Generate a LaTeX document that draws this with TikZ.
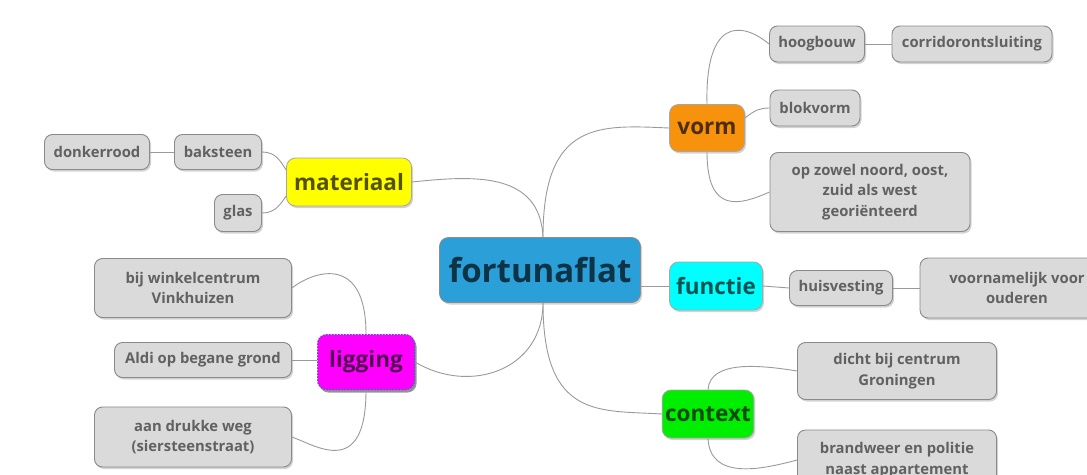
\documentclass[tikz,border=0pt]{standalone}
\usepackage{fontspec}
\setmainfont{Open Sans}
\usetikzlibrary{shadows}
\definecolor{leaffill}{HTML}{DADADA}
\definecolor{leafedge}{HTML}{8A8A8A}
\definecolor{linkgray}{HTML}{9A9A9A}
\definecolor{rootblue}{HTML}{2A9FD8}
\definecolor{vormorange}{HTML}{F7920C}
\definecolor{matyellow}{HTML}{FFFF00}
\definecolor{funccyan}{HTML}{00FFFF}
\definecolor{ligmagenta}{HTML}{FF00FF}
\definecolor{ligedge}{HTML}{4050E0}
\definecolor{ctxgreen}{HTML}{00EE00}
\tikzset{
  leaf/.style={draw=leafedge, line width=0.9pt, fill=leaffill, rounded corners=8pt,
    font=\bfseries\fontsize{14.8}{20.5}\selectfont, text=black!62, align=center, inner sep=3pt,
    drop shadow={shadow xshift=1.5pt, shadow yshift=-2pt, opacity=0.35}},
  topic/.style={draw=black!35, line width=0.8pt, rounded corners=9pt,
    font=\bfseries\fontsize{22.5}{26}\selectfont, text=black, text opacity=0.68, inner sep=3pt,
    drop shadow={shadow xshift=1.5pt, shadow yshift=-2pt, opacity=0.35}},
  link/.style={draw=linkgray, line width=0.9pt}
}
\begin{document}
\begin{tikzpicture}[x=1pt,y=-1pt]
\useasboundingbox (0,0) rectangle (1087,474);
\clip (0,0) rectangle (1087,474);
\fill[white] (0,0) rectangle (1087,474);

% centre
\node[topic, fill=rootblue, draw=black!45, font=\bfseries\fontsize{33}{36}\selectfont,
  minimum width=201pt, minimum height=65pt] (root) at (540,270) {fortunaflat};

% main topics
\node[topic, fill=vormorange, minimum width=75pt, minimum height=47pt] (vorm) at (707,128) {vorm};
\node[topic, fill=matyellow, minimum width=125pt, minimum height=48pt] (mat) at (349,182) {materiaal};
\node[topic, fill=funccyan, minimum width=93pt, minimum height=48pt] (func) at (716,286) {functie};
\node[topic, fill=ligmagenta, draw=ligedge, dash pattern=on 1.5pt off 1.5pt, line width=1pt,
  minimum width=97pt, minimum height=55pt,
  drop shadow={shadow xshift=2pt, shadow yshift=-3pt, opacity=0.8}] (lig) at (366,362) {ligging};
\node[topic, fill=ctxgreen, minimum width=77pt, minimum height=48pt] (ctx) at (708,414) {context};

% vorm
\node[leaf, minimum width=95pt, minimum height=36pt] (hoog) at (817,44) {hoogbouw};
\node[leaf, minimum width=160pt, minimum height=36pt] (corr) at (972,44) {corridorontsluiting};
\node[leaf, minimum width=90pt, minimum height=36pt] (blok) at (815,108) {blokvorm};
\node[leaf, minimum width=200pt, minimum height=79pt] (orient) at (870,192)
  {op zowel noord, oost,\\zuid als west\\georiënteerd};

% materiaal
\node[leaf, minimum width=87pt, minimum height=35pt] (bak) at (218,152) {baksteen};
\node[leaf, minimum width=105pt, minimum height=35pt] (donk) at (97,152) {donkerrood};
\node[leaf, minimum width=47pt, minimum height=37pt] (glas) at (238,213) {glas};

% functie
\node[leaf, minimum width=103pt, minimum height=35pt] (huis) at (841,288) {huisvesting};
\node[leaf, minimum width=194pt, minimum height=60pt] (oud) at (1017,288) {voornamelijk voor\\ouderen};

% ligging
\node[leaf, minimum width=197pt, minimum height=59pt] (wink) at (193,288) {bij winkelcentrum\\Vinkhuizen};
\node[leaf, minimum width=177pt, minimum height=35pt] (aldi) at (203,360) {Aldi op begane grond};
\node[leaf, minimum width=197pt, minimum height=60pt] (weg) at (193,437) {aan drukke weg\\(siersteenstraat)};

% context
\node[leaf, minimum width=199pt, minimum height=57pt] (dicht) at (897,371) {dicht bij centrum\\Groningen};
\node[leaf, minimum width=199pt, minimum height=60pt] (brand) at (897,460) {brandweer en politie\\naast appartement};

% connectors from the centre
\path (root.north) ++(3,0) coordinate (rt1);
\path (root.south) ++(3,0) coordinate (rb1);
\draw[link] (rt1) .. controls (543,120) and (600,125) .. (vorm.west);
\draw[link] (mat.east) .. controls (470,176) and (540,170) .. (rt1);
\draw[link] (root.east |- func.west) -- (func.west);
\draw[link] (lig.east) .. controls (470,395) and (543,370) .. (rb1);
\draw[link] (rb1) .. controls (543,420) and (600,410) .. (ctx.west);

% vorm branch
\draw[link] (vorm.north) .. controls (705,20) and (740,20) .. (hoog.west);
\draw[link] (hoog.east) -- (corr.west);
\draw[link] (vorm.east) ++(0,-10) .. controls (755,110) and (760,108) .. (blok.west);
\draw[link] (vorm.south) .. controls (707,215) and (740,205) .. (orient.west);

% materiaal branch
\draw[link] (bak.east) .. controls (275,152) and (280,160) .. (mat.west |- 0,170);
\draw[link] (donk.east) -- (bak.west);
\draw[link] (glas.east) .. controls (275,213) and (280,205) .. (mat.west |- 0,196);

% functie branch
\draw[link] (func.east) -- (huis.west);
\draw[link] (huis.east) -- (oud.west);

% ligging branch
\draw[link] (lig.north) .. controls (366,255) and (315,270) .. (wink.east);
\draw[link] (aldi.east) -- (lig.west |- aldi.east);
\draw[link] (lig.south) .. controls (366,480) and (315,445) .. (weg.east);

% context branch
\draw[link] (ctx.north) .. controls (710,360) and (760,365) .. (dicht.west);
\draw[link] (ctx.south) .. controls (710,480) and (760,470) .. (brand.west);
\end{tikzpicture}
\end{document}
